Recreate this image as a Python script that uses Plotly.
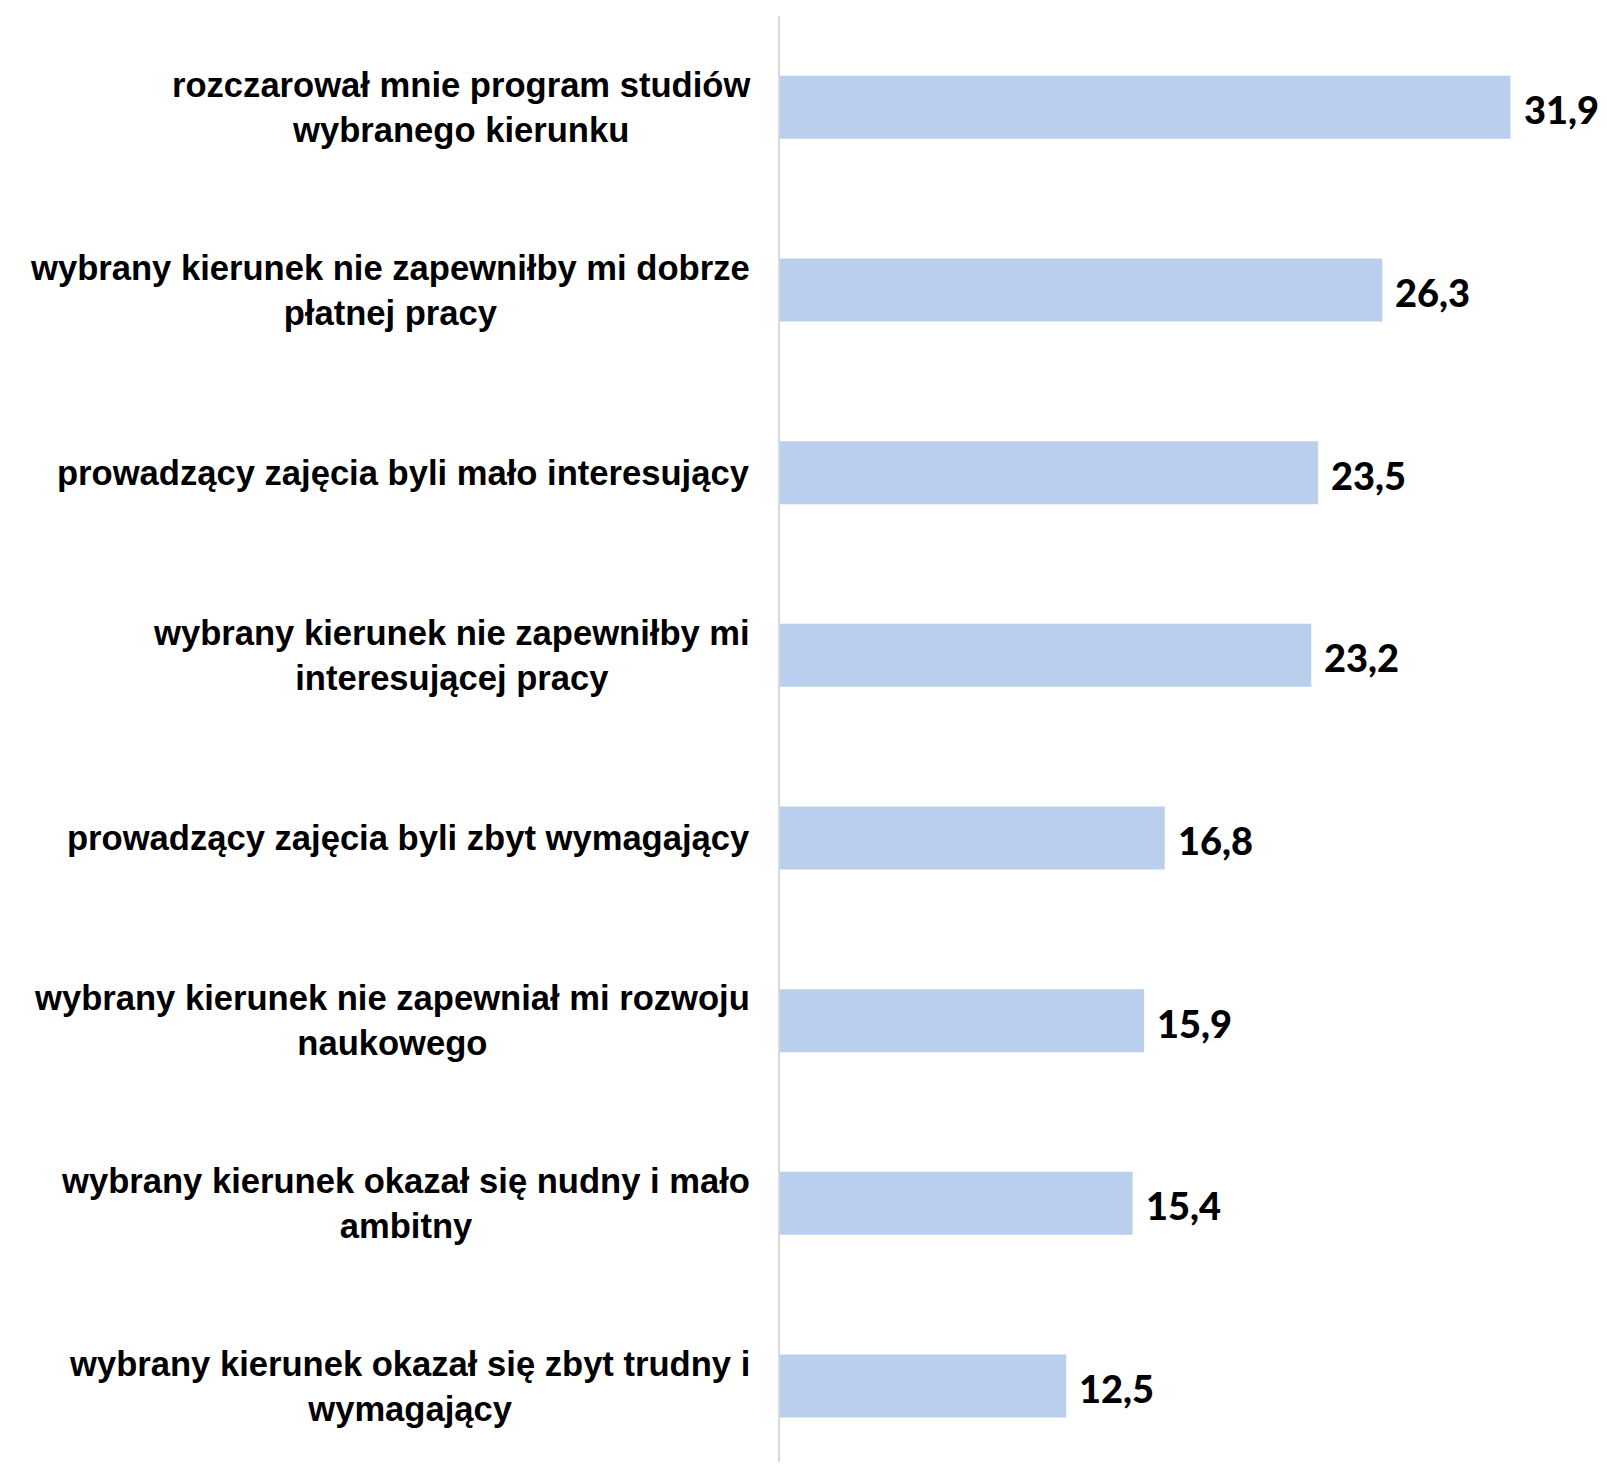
import plotly.graph_objects as go

categories = [
    "rozczarował mnie program studiów<br>wybranego kierunku",
    "wybrany kierunek nie zapewniłby mi dobrze<br>płatnej pracy",
    "prowadzący zajęcia byli mało interesujący",
    "wybrany kierunek nie zapewniłby mi<br>interesującej pracy",
    "prowadzący zajęcia byli zbyt wymagający",
    "wybrany kierunek nie zapewniał mi rozwoju<br>naukowego",
    "wybrany kierunek okazał się nudny i mało<br>ambitny",
    "wybrany kierunek okazał się zbyt trudny i<br>wymagający",
]
values = [31.9, 26.3, 23.5, 23.2, 16.8, 15.9, 15.4, 12.5]
value_labels = [f"{v:.1f}".replace(".", ",") for v in values]

fig = go.Figure()
fig.add_trace(go.Bar(
    x=values,
    y=categories,
    orientation="h",
    width=0.345,
    marker=dict(color="#bacfed", line=dict(width=0)),
    hoverinfo="skip",
))

annotations = []
for cat, v, lab in zip(categories, values, value_labels):
    annotations.append(dict(
        x=0, xref="paper", y=cat, yref="y",
        text=cat, showarrow=False,
        xanchor="right", yanchor="middle", align="center",
        xshift=-28,
        font=dict(family="Liberation Sans, Arial, sans-serif", size=34.6, color="#000000", weight="bold"),
    ))
    annotations.append(dict(
        x=v, xref="x", y=cat, yref="y",
        text=lab, showarrow=False,
        xanchor="left", yanchor="middle",
        xshift=11, yshift=-2,
        font=dict(family="Lato, Poppins, sans-serif", size=38, color="#000000", weight=900),
    ))

fig.update_layout(
    width=1591, height=1454,
    margin=dict(l=772, r=39, t=8, b=0),
    plot_bgcolor="#ffffff", paper_bgcolor="#ffffff",
    showlegend=False,
    xaxis=dict(range=[0, 34.06], visible=False, showgrid=False, zeroline=False, fixedrange=True),
    yaxis=dict(
        type="category",
        range=[7.416, -0.50],
        showticklabels=False, ticks="",
        showgrid=False, zeroline=False,
        showline=True, linecolor="#d9d9d9", linewidth=1.5,
        fixedrange=True,
    ),
    annotations=annotations,
)

fig.write_html("out.html")
